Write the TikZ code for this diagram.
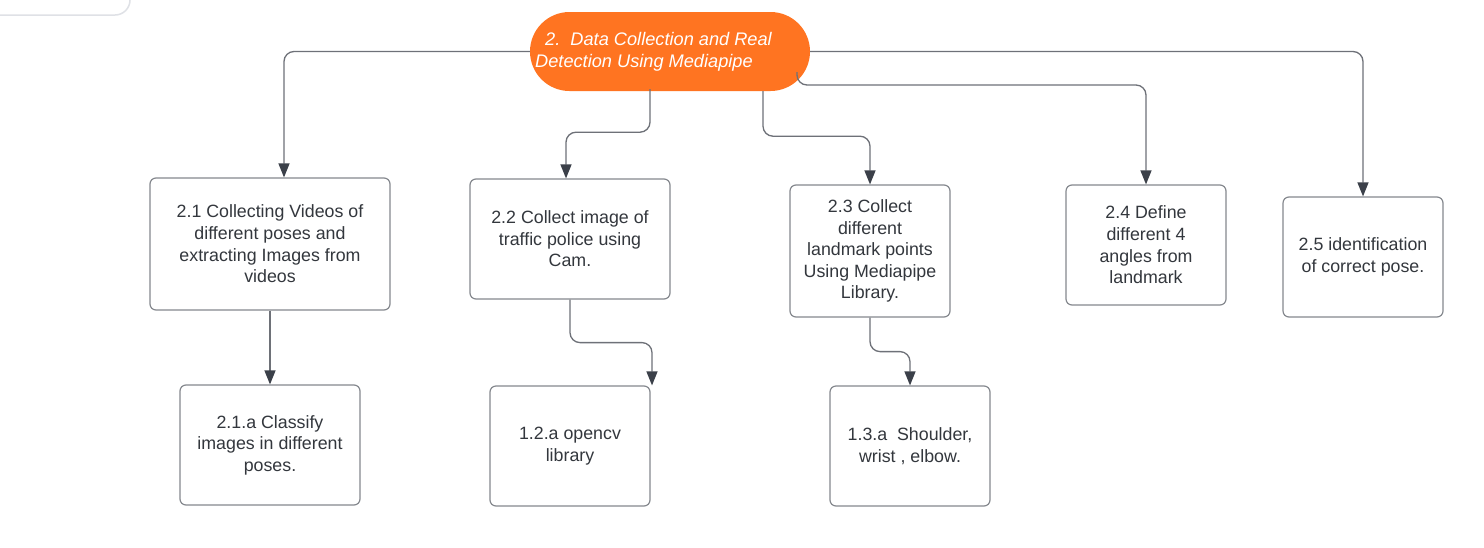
\documentclass[tikz,border=0pt]{standalone}
\usepackage{fontspec}
\setmainfont{Liberation Sans}
\usetikzlibrary{arrows.meta}
\definecolor{rootorange}{HTML}{FF7421}
\definecolor{linegray}{HTML}{6E7178}
\definecolor{tipgray}{HTML}{3B4049}
\definecolor{boxline}{HTML}{85888E}
\definecolor{txtgray}{HTML}{33373D}
\definecolor{ghost}{HTML}{DFE1E6}
\tikzset{
  stepbox/.style={draw=boxline, line width=1.2pt, rounded corners=6pt, fill=white,
    inner sep=0pt, align=center, text=txtgray,
    font=\fontsize{17.8}{21.6}\selectfont},
  conn/.style={draw=linegray, line width=1.3pt, rounded corners=10pt,
    -{Triangle[length=14pt,width=11pt,color=tipgray]}},
}
\begin{document}
\begin{tikzpicture}[x=1pt,y=-1pt]
\useasboundingbox (0,0) rectangle (1484,547);
\fill[white] (0,0) rectangle (1484,547);
% faint shape at top-left
\draw[ghost, line width=1.5pt, rounded corners=15pt] (-30,-40) rectangle (130,15);

% root
\node[fill=rootorange, rounded corners=39.5pt, minimum width=280pt, minimum height=79pt, inner sep=0pt]
  (root) at (670,51.5) {};
\node[anchor=west, align=left, text=white, inner sep=0pt,
  font=\fontsize{18.2}{22}\selectfont\itshape] (roottext) at (535,52)
  {\hspace*{10pt}2.\ \ Data Collection and Real\\Detection Using Mediapipe};
\coordinate (c4) at (797,72);

% level 1 boxes
\node[stepbox, minimum width=240pt, minimum height=132pt] (b21) at (270,244)
  {2.1 Collecting Videos of\\different poses and\\extracting Images from\\videos};
\node[stepbox, minimum width=200pt, minimum height=120pt] (b22) at (570,239)
  {2.2 Collect image of\\traffic police using\\Cam.};
\node[stepbox, minimum width=160pt, minimum height=132pt] (b23) at (870,251)
  {2.3 Collect\\different\\landmark points\\Using Mediapipe\\Library.};
\node[stepbox, minimum width=160pt, minimum height=120pt] (b24) at (1146,245)
  {2.4 Define\\different 4\\angles from\\landmark};
\node[stepbox, minimum width=160pt, minimum height=120pt] (b25) at (1363,257)
  {2.5 identification\\of correct pose.};

% level 2 boxes
\node[stepbox, minimum width=180pt, minimum height=120pt] (b21a) at (270,445)
  {2.1.a Classify\\images in different\\poses.};
\node[stepbox, minimum width=160pt, minimum height=120pt] (b22a) at (570,446)
  {1.2.a opencv\\library};
\node[stepbox, minimum width=160pt, minimum height=120pt] (b23a) at (910,446)
  {1.3.a\ \ Shoulder,\\wrist , elbow.};

% connectors from root
\draw[conn] (root.west) -| ([xshift=14pt]b21.north);
\draw[conn] ([xshift=-20pt,yshift=2pt]root.south) -- ++(0,43) -| ([xshift=-4pt]b22.north);
\draw[conn] ([xshift=93pt]root.south) -- ++(0,45) -| (b23.north);
\draw[conn] (c4) -- ++(0,13) -| (b24.north);
\draw[conn] (root.east) -| (b25.north);

% connectors to level 2
\draw[conn] (b21.south) -- (b21a.north);
\draw[conn] (b22.south) -- ++(0,43) -| ([xshift=82pt]b22a.north);
\draw[conn] (b23.south) -- ++(0,34) -| (b23a.north);
\end{tikzpicture}
\end{document}
